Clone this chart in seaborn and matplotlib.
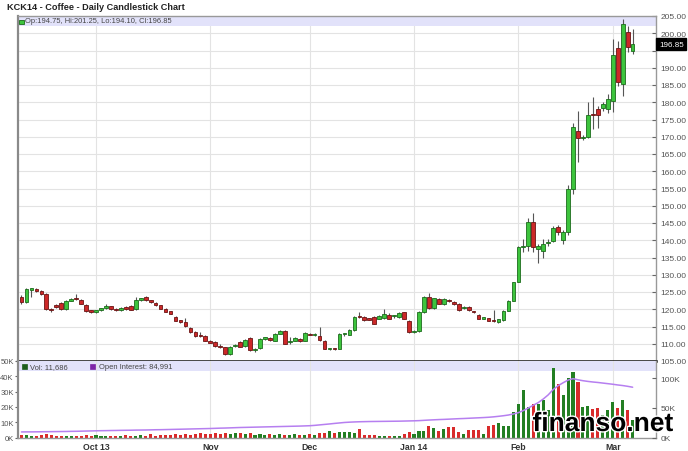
import numpy as np
import pandas as pd
import matplotlib
matplotlib.use("Agg")
import matplotlib.pyplot as plt
import matplotlib.patheffects as pe
import seaborn as sns

# ---------------- data ----------------
opens = [123.6, 122.2, 125.7, 126.0, 125.3, 124.5, 120.0, 121.2, 121.8, 120.0,
         122.5, 123.2, 122.8, 121.2, 119.6, 119.3, 119.7, 120.3, 120.8, 120.2,
         119.8, 120.6, 121.0, 120.0, 122.8, 123.6, 122.6, 121.9, 121.1, 120.1,
         119.4, 117.8, 116.6, 116.4, 114.6, 113.4, 112.6, 112.3, 110.9, 110.5,
         109.4, 109.0, 107.1, 109.3, 110.4, 109.4, 111.6, 108.2, 108.7, 111.4,
         111.7, 110.9, 112.9, 113.8, 110.4, 110.9, 111.5, 110.9, 112.8, 112.5,
         112.3, 110.8, 108.5, 108.6, 108.6, 112.7, 112.6, 114.0, 117.9, 117.8,
         117.4, 117.7, 117.3, 117.5, 118.2, 117.9, 117.8, 119.1, 116.7, 113.4,
         113.6, 119.2, 123.6, 120.4, 123.0, 121.4, 122.8, 122.1, 121.5, 120.3,
         120.6, 119.3, 118.3, 117.3, 117.4, 116.8, 116.3, 116.9, 119.6, 122.5,
         128.0, 138.0, 138.3, 145.3, 137.5, 136.8, 139.2, 139.8, 143.7, 140.1,
         142.4, 154.9, 171.8, 169.6, 169.9, 176.6, 178.0, 178.3, 178.0, 180.4,
         195.7, 185.3, 200.4, 194.75]
highs = [124.0, 126.3, 126.3, 126.2, 125.5, 124.7, 120.4, 121.5, 122.0, 122.7,
         123.3, 124.5, 123.0, 121.4, 119.8, 119.9, 120.5, 121.4, 121.0, 120.4,
         120.7, 120.8, 121.3, 123.6, 123.4, 123.8, 122.8, 122.1, 121.3, 120.3,
         119.6, 118.0, 117.0, 117.5, 114.8, 113.6, 113.4, 112.5, 111.2, 110.7,
         109.8, 109.2, 109.4, 109.9, 110.7, 111.4, 111.9, 108.8, 111.7, 112.1,
         112.0, 113.1, 114.0, 114.1, 112.0, 112.0, 111.7, 113.4, 113.2, 113.1,
         114.9, 111.0, 108.9, 108.8, 113.0, 113.2, 114.2, 117.9, 119.3, 118.0,
         117.6, 118.0, 118.2, 120.0, 118.9, 118.3, 119.2, 119.3, 116.9, 113.9,
         119.4, 123.7, 124.6, 123.4, 123.3, 123.2, 123.0, 122.3, 121.7, 120.8,
         120.8, 119.5, 118.5, 117.7, 117.6, 119.7, 117.3, 119.7, 122.6, 128.0,
         138.3, 140.4, 146.5, 147.8, 138.8, 140.5, 140.5, 144.2, 144.3, 143.0,
         156.0, 174.0, 177.6, 170.5, 180.1, 181.5, 179.0, 180.0, 182.5, 198.3,
         197.8, 204.2, 202.2, 201.25]
lows = [121.5, 121.8, 123.5, 125.0, 124.2, 119.8, 119.2, 120.3, 119.8, 119.8,
        122.3, 122.8, 121.4, 119.2, 119.0, 118.9, 119.5, 120.1, 119.9, 119.5,
        119.6, 119.9, 119.7, 119.8, 122.5, 122.5, 121.9, 121.0, 120.0, 119.1,
        118.5, 116.5, 116.0, 115.0, 113.2, 112.0, 112.0, 110.7, 110.1, 109.1,
        108.7, 106.6, 106.8, 109.0, 109.0, 109.2, 108.0, 107.6, 108.5, 111.2,
        110.9, 110.7, 112.7, 109.8, 109.8, 110.7, 110.5, 110.7, 112.4, 112.3,
        110.8, 108.4, 108.2, 108.2, 108.4, 112.2, 112.4, 113.8, 117.5, 116.6,
        116.8, 115.6, 117.1, 117.3, 117.1, 117.6, 117.6, 117.1, 113.2, 113.0,
        113.4, 119.0, 120.2, 120.2, 121.4, 121.2, 122.1, 121.3, 119.5, 120.1,
        119.5, 118.9, 117.1, 117.1, 116.5, 116.4, 116.1, 116.7, 119.4, 122.3,
        127.8, 136.6, 137.0, 136.5, 133.5, 135.0, 138.2, 139.5, 141.5, 139.0,
        141.5, 153.5, 162.6, 169.0, 169.5, 172.2, 172.5, 177.5, 176.8, 177.2,
        184.8, 181.9, 194.5, 194.10]
closes = [122.0, 126.0, 126.0, 125.3, 124.5, 120.0, 119.8, 120.6, 120.0, 122.5,
          123.0, 123.0, 121.6, 119.4, 119.3, 119.6, 120.3, 120.9, 120.1, 119.8,
          120.5, 120.1, 119.9, 122.8, 123.2, 122.7, 122.1, 121.2, 120.2, 119.3,
          118.7, 116.7, 116.4, 115.2, 113.4, 112.3, 112.2, 110.9, 110.3, 109.3,
          109.0, 107.1, 109.2, 109.6, 109.2, 111.2, 108.2, 108.5, 111.5, 111.9,
          111.1, 112.9, 113.8, 110.0, 110.6, 111.8, 110.7, 113.2, 112.6, 112.9,
          111.0, 108.6, 108.6, 108.5, 112.8, 112.9, 114.0, 117.7, 117.7, 116.8,
          117.0, 115.8, 118.0, 118.5, 117.3, 118.1, 119.0, 117.3, 113.4, 113.6,
          119.2, 123.5, 120.4, 123.2, 121.6, 123.0, 122.3, 121.6, 119.7, 120.6,
          119.7, 119.1, 117.3, 117.5, 116.7, 116.6, 117.1, 119.5, 122.4, 127.8,
          138.0, 138.4, 145.3, 138.0, 138.2, 138.9, 139.6, 143.6, 142.3, 142.4,
          154.9, 172.8, 169.6, 169.9, 176.3, 176.2, 176.3, 179.5, 181.0, 193.7,
          185.9, 202.7, 196.0, 196.85]
volume_k = [1.4, 1.6, 1.2, 1.3, 1.5, 2.0, 1.4, 1.1, 0.9, 1.2,
            1.0, 1.3, 1.1, 1.5, 0.9, 1.8, 1.2, 1.0, 1.3, 0.8,
            1.1, 1.4, 1.0, 1.2, 1.5, 1.3, 2.1, 1.2, 1.6, 1.4,
            1.8, 2.0, 1.7, 2.2, 1.9, 2.4, 2.8, 2.5, 2.3, 2.9,
            2.1, 3.1, 2.6, 3.2, 2.7, 2.4, 3.0, 1.9, 2.2, 1.8,
            2.0, 1.7, 2.1, 1.6, 1.8, 2.3, 1.5, 1.9, 2.6, 1.7,
            3.2, 2.8, 4.1, 3.0, 3.3, 3.3, 3.4, 3.2, 5.5, 1.5,
            1.4, 1.6, 1.0, 1.1, 0.8, 0.9, 1.2, 2.0, 3.6, 2.5,
            4.0, 4.4, 7.3, 6.0, 4.4, 5.5, 6.7, 6.7, 3.3, 2.2,
            5.0, 4.8, 5.2, 2.6, 7.8, 8.2, 9.6, 7.3, 7.3, 16.7,
            22.0, 31.0, 20.0, 22.0, 22.0, 24.4, 17.8, 45.5, 35.0, 27.8,
            38.9, 42.9, 36.0, 20.0, 20.4, 18.9, 19.3, 14.4, 17.8, 23.3,
            19.3, 24.4, 17.8, 11.686]
open_interest_k = [9.4, 9.5, 9.5, 9.6, 9.7, 9.8, 9.9, 10.0, 10.1, 10.2,
                   10.4, 10.5, 10.7, 10.9, 11.1, 11.3, 11.5, 11.6, 11.8, 11.9,
                   12.1, 12.2, 12.3, 12.5, 12.6, 12.7, 12.9, 13.1, 13.2, 13.4,
                   13.6, 13.8, 14.0, 14.2, 14.4, 14.6, 14.8, 15.0, 15.2, 15.5,
                   15.8, 16.0, 16.3, 16.6, 16.9, 17.1, 17.3, 17.5, 17.7, 17.9,
                   18.1, 18.3, 18.5, 18.7, 18.9, 19.1, 19.3, 19.6, 19.9, 20.5,
                   21.3, 22.1, 22.9, 23.8, 24.6, 25.4, 25.9, 26.3, 26.6, 26.8,
                   27.0, 27.1, 27.2, 27.3, 27.4, 27.5, 27.6, 27.8, 28.0, 28.2,
                   28.5, 29.0, 29.5, 29.9, 30.3, 30.6, 31.0, 31.4, 31.8, 32.1,
                   32.5, 32.9, 33.3, 33.7, 34.2, 34.9, 35.8, 36.8, 38.0, 39.8,
                   42.0, 45.5, 49.8, 54.5, 59.0, 65.0, 72.0, 81.0, 87.5, 92.5,
                   97.0, 99.5, 97.5, 96.0, 94.8, 93.8, 93.0, 92.0, 91.0, 90.0,
                   88.8, 87.8, 86.5, 84.991]
month_tick_idx = [15, 38, 58, 79, 100, 119]
month_labels = ["Oct 13", "Nov", "Dec", "Jan 14", "Feb", "Mar"]
price_ticks = [105, 110, 115, 120, 125, 130, 135, 140, 145, 150, 155, 160, 165,
               170, 175, 180, 185, 190, 195, 200, 205]
vol_ticks = [0, 10, 20, 30, 40, 50]
oi_ticks = [0, 50, 100]
title = "KCK14 - Coffee - Daily Candlestick Chart"
ohlc_legend = "Op:194.75, Hi:201.25, Lo:194.10, Cl:196.85"
vol_legend = "Vol: 11,686"
oi_legend = "Open Interest: 84,991"
last_close = 196.85

df = pd.DataFrame({"idx": np.arange(len(closes)), "open": opens, "high": highs,
                   "low": lows, "close": closes, "vol": volume_k,
                   "oi": open_interest_k})
df["dir"] = np.where(df["close"] >= df["open"], "up", "down")

# ---------------- style ----------------
sns.set_style("white")
plt.rcParams['font.family'] = ['Liberation Sans', 'DejaVu Sans']

W, H = 688, 452
fig = plt.figure(figsize=(W / 100, H / 100), dpi=100)
fig.patch.set_facecolor("white")

def fx(px):
    return px / W

def fy(py):
    return 1 - py / H

L, R = 18, 656
ax = fig.add_axes([fx(L), fy(362), fx(R - L), (362 - 17) / H])
axv = fig.add_axes([fx(L), fy(438.5), fx(R - L), (438.5 - 362) / H])

XLIM = (-0.7, 127.7)
GRID = "#e3e3e3"
BODY_UP, EDGE_UP = "#3dc43d", "#1c6b1c"
BODY_DN, EDGE_DN = "#cc2828", "#6b1515"
VOL_UP, VOL_DN = "#237f23", "#d92b2b"
BAND = "#e2e2fa"
TICKC = "#555555"

# --------- main price panel ---------
ax.set_xlim(*XLIM)
ax.set_ylim(105, 205)
ax.add_patch(plt.Rectangle((0, 1 - 9.5 / 345), 1, 9.5 / 345, transform=ax.transAxes,
                           facecolor=BAND, edgecolor="none", zorder=0.5))
for p in price_ticks:
    ax.axhline(p, color=GRID, lw=0.8, zorder=0.3)
for m in month_tick_idx:
    ax.axvline(m, color=GRID, lw=0.8, zorder=0.3)

ax.vlines(df["idx"], df["low"], df["high"], color="#555555", lw=0.8, zorder=2)
bh = np.maximum((df["close"] - df["open"]).abs(), 0.35)
bb = np.minimum(df["open"], df["close"])
up = df["dir"] == "up"
ax.bar(df["idx"][up], bh[up], bottom=bb[up], width=0.74, color=BODY_UP,
       edgecolor=EDGE_UP, linewidth=0.6, zorder=3)
ax.bar(df["idx"][~up], bh[~up], bottom=bb[~up], width=0.74, color=BODY_DN,
       edgecolor=EDGE_DN, linewidth=0.6, zorder=3)

ax.yaxis.tick_right()
ax.set_yticks(price_ticks)
ax.set_yticklabels([f"{p:.2f}" for p in price_ticks])
ax.tick_params(axis="y", direction="in", length=3, width=0.8, colors="#666666",
               labelcolor=TICKC, labelsize=6, pad=3)
# the last-price marker box sits where the nearest tick label would be
for t, p in zip(ax.get_yticklabels(), price_ticks):
    if abs(p - last_close) < 2.5:
        t.set_visible(False)
ax.set_xticks([])
for s in ["left", "right", "top"]:
    ax.spines[s].set_visible(True)
    ax.spines[s].set_color("#999999")
    ax.spines[s].set_linewidth(1.0)
ax.spines["left"].set_linewidth(1.6)
ax.spines["left"].set_color("#8a8a8a")
ax.spines["bottom"].set_color("#111111")
ax.spines["bottom"].set_linewidth(1.8)
ax.spines["bottom"].set_zorder(10)

ann = ax.annotate(f"{last_close:.2f}", xy=(1.0, last_close),
                  xycoords=("axes fraction", "data"),
                  xytext=(2.2, 0), textcoords="offset points", va="center", ha="left",
                  fontsize=5.8, color="white", annotation_clip=False,
                  bbox=dict(boxstyle="square,pad=0.32", fc="black", ec="black"))
ann.set_zorder(30)

# --------- volume panel ---------
axv.set_xlim(*XLIM)
axv.set_ylim(0, 50)
axv.add_patch(plt.Rectangle((0, 1 - 10 / 76.5), 1, 10 / 76.5, transform=axv.transAxes,
                            facecolor=BAND, edgecolor="none", zorder=0.2))
for m in month_tick_idx:
    axv.axvline(m, color=GRID, lw=0.8, zorder=0.3)
sns.barplot(data=df, x="idx", y="vol", hue="dir", palette={"up": VOL_UP, "down": VOL_DN},
            native_scale=True, dodge=False, width=0.62, saturation=1, legend=False,
            ax=axv, zorder=2, linewidth=0)
axv.set_xlim(*XLIM)
axv.set_ylim(0, 50)
axv.set_xlabel("")
axv.set_ylabel("")
axv.set_yticks(vol_ticks)
axv.set_yticklabels([f"{v}K" for v in vol_ticks])
axv.tick_params(axis="y", direction="out", length=2.5, width=0.8, colors="#666666",
                labelcolor=TICKC, labelsize=5.5, pad=0.5)
axv.set_xticks(month_tick_idx)
axv.set_xticklabels(month_labels, fontweight="bold", color="#333333", fontsize=6.3)
axv.tick_params(axis="x", length=0, pad=3)
for s in ["left", "right", "bottom"]:
    axv.spines[s].set_visible(True)
    axv.spines[s].set_color("#999999")
    axv.spines[s].set_linewidth(1.0)
axv.spines["left"].set_linewidth(1.6)
axv.spines["left"].set_color("#8a8a8a")
axv.spines["top"].set_visible(False)

axo = axv.twinx()
sns.lineplot(data=df, x="idx", y="oi", ax=axo, color="#b67ff0", lw=1.1, zorder=3)
axo.set_xlim(*XLIM)
axo.set_ylim(0, 129.3)
axo.set_ylabel("")
axo.set_yticks(oi_ticks)
axo.set_yticklabels([f"{v}K" for v in oi_ticks])
axo.tick_params(axis="y", direction="in", length=3, width=0.8, colors="#666666",
                labelcolor=TICKC, labelsize=6, pad=3)
for s in axo.spines.values():
    s.set_visible(False)

# --------- texts ---------
fig.text(fx(7), fy(7.5), title, fontsize=6.6, fontweight="bold", color="#222222",
         ha="left", va="center")
fig.patches.append(plt.Rectangle((fx(19), fy(25)), fx(4.5), 4.5 / H, transform=fig.transFigure,
                                 facecolor=BODY_UP, edgecolor=EDGE_UP, lw=0.6, figure=fig))
fig.text(fx(25), fy(21.5), ohlc_legend, fontsize=5.4, color="#444444", ha="left", va="center")
fig.patches.append(plt.Rectangle((fx(22), fy(370)), fx(5), 5 / H, transform=fig.transFigure,
                                 facecolor="#1d5e1d", edgecolor="#1d5e1d", lw=0.5, figure=fig))
fig.text(fx(30), fy(367.5), vol_legend, fontsize=5.4, color="#444444", ha="left", va="center")
fig.patches.append(plt.Rectangle((fx(90), fy(370)), fx(5), 5 / H, transform=fig.transFigure,
                                 facecolor="#7d25a8", edgecolor="#7d25a8", lw=0.5, figure=fig))
fig.text(fx(99), fy(367.5), oi_legend, fontsize=5.4, color="#444444", ha="left", va="center")

fig.text(fx(603), fy(432), "finanso.net", fontsize=19, fontweight="bold", color="black",
         ha="center", va="baseline", zorder=20,
         path_effects=[pe.withStroke(linewidth=2, foreground="white")])

fig.savefig("out.png", dpi=100, facecolor="white")
